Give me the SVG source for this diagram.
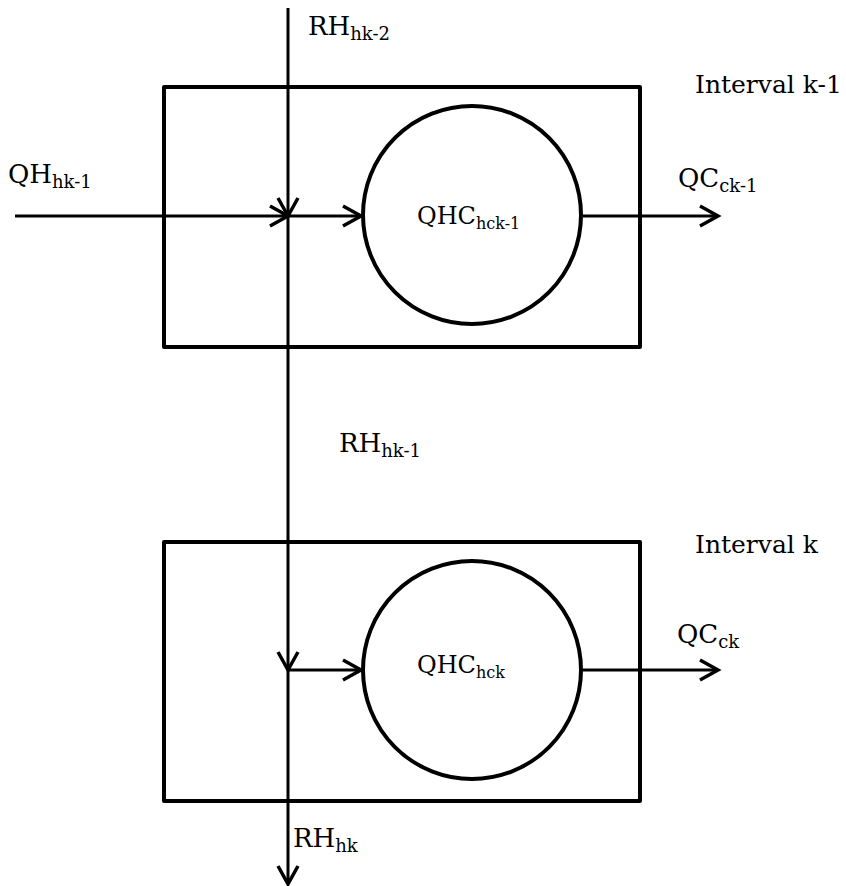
<svg xmlns="http://www.w3.org/2000/svg" width="846" height="886" viewBox="0 0 846 886">
  <style>
    .box { fill: none; stroke: #000; stroke-width: 4; stroke-linejoin: round; }
    .proc { fill: #fff; stroke: #000; stroke-width: 4; }
    .flow { fill: none; stroke: #000; stroke-width: 3; }
    text { font-family: 'DejaVu Serif', serif; fill: #000; }
    .lbl { font-size: 26px; }
    .ttl { font-size: 25px; }
    .sub { font-size: 18px; }
    .plbl { font-size: 24px; }
    .psub { font-size: 16px; }
  </style>
  <defs>
    <marker id="arr" markerUnits="userSpaceOnUse" markerWidth="24" markerHeight="26" viewBox="-20 -12 24 24" refX="0" refY="0" orient="auto">
      <path d="M -18 -10 L 0 0 L -18 10" fill="none" stroke="#000" stroke-width="3.5" stroke-linejoin="miter"/>
    </marker>
  </defs>
  <rect width="846" height="886" fill="#fff"/>

  <g id="interval-k-1">
    <rect class="box" x="164" y="87" width="476" height="260"/>
    <text class="ttl" x="695" y="93">Interval k-1</text>
  </g>
  <g id="interval-k">
    <rect class="box" x="164" y="542" width="476" height="259"/>
    <text class="ttl" x="695" y="553">Interval k</text>
  </g>

  <g id="connectors">
    <path class="flow" d="M 288 8 L 288 216" marker-end="url(#arr)"/>
    <path class="flow" d="M 288 216 L 288 670" marker-end="url(#arr)"/>
    <path class="flow" d="M 288 670 L 288 884" marker-end="url(#arr)"/>
    <path class="flow" d="M 15 216 L 288 216" marker-end="url(#arr)"/>
    <path class="flow" d="M 288 216 L 361 216" marker-end="url(#arr)"/>
    <path class="flow" d="M 583 216 L 718 216" marker-end="url(#arr)"/>
    <path class="flow" d="M 288 670 L 361 670" marker-end="url(#arr)"/>
    <path class="flow" d="M 583 670 L 718 670" marker-end="url(#arr)"/>
  </g>

  <g id="qhc-k-1">
    <circle class="proc" cx="472" cy="215" r="109"/>
    <text class="plbl" x="417" y="224">QHC<tspan class="psub" dy="5">hck-1</tspan></text>
  </g>
  <g id="qhc-k">
    <circle class="proc" cx="472" cy="670" r="109"/>
    <text class="plbl" x="417" y="673">QHC<tspan class="psub" dy="5">hck</tspan></text>
  </g>

  <g id="labels">
    <text class="lbl" x="308" y="35">RH<tspan class="sub" dy="5">hk-2</tspan></text>
    <text class="lbl" x="8" y="183">QH<tspan class="sub" dy="5">hk-1</tspan></text>
    <text class="lbl" x="678" y="187">QC<tspan class="sub" dy="5">ck-1</tspan></text>
    <text class="lbl" x="339" y="452">RH<tspan class="sub" dy="5">hk-1</tspan></text>
    <text class="lbl" x="677" y="643">QC<tspan class="sub" dy="5">ck</tspan></text>
    <text class="lbl" x="293" y="847">RH<tspan class="sub" dy="5">hk</tspan></text>
  </g>
</svg>
